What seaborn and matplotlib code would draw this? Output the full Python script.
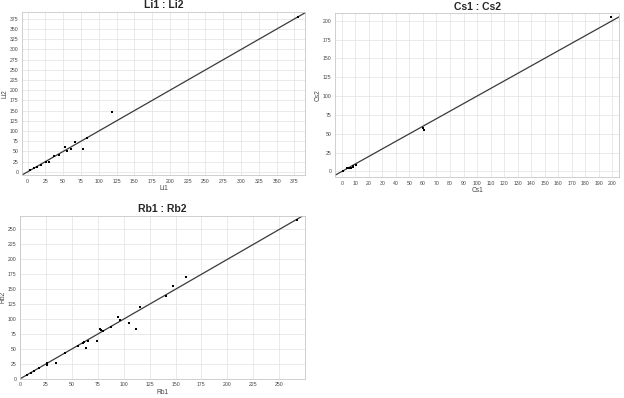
import numpy as np
import pandas as pd
import matplotlib
matplotlib.use("Agg")
import matplotlib.pyplot as plt
import seaborn as sns

# Li1 vs Li2
li1 = [4, 9, 14, 19, 26, 30, 37, 44, 52, 55, 61, 66, 78, 83, 119, 380]
li2 = [5, 9, 13, 17, 25, 25, 38, 42, 60, 52, 57, 74, 55, 84, 146, 380]

# Cs1 vs Cs2
cs1 = [0.5, 1, 4, 5, 7, 8, 8, 10.5, 60, 61, 199]
cs2 = [0, 0.5, 4, 4.5, 4, 6, 7.5, 9, 58, 55.5, 205]

# Rb1 vs Rb2
rb1 = [7, 11, 13.5, 18.7, 26, 26.4, 34.8, 43.8, 56, 60.5, 62, 63.8, 65.7, 74.7,
       77.3, 78, 80, 87.6, 94.7, 96.6, 104.7, 111.8, 115.6, 141, 147.5, 160, 266.7]
rb2 = [6, 10.7, 13, 17.4, 23, 26.4, 25.8, 42.7, 55.6, 59.5, 61, 51, 64, 64,
       83.7, 81.5, 80, 86, 103, 98, 92.7, 84.3, 120, 139, 155.6, 171, 266]

panels = [
    ("Li1", "Li2", li1, li2, np.arange(0, 400, 25), np.arange(0, 400, 25), (-8, 390), (-8, 392)),
    ("Cs1", "Cs2", cs1, cs2, np.arange(0, 210, 10), np.arange(0, 210, 25), (-5, 205), (-7.5, 210)),
    ("Rb1", "Rb2", rb1, rb2, np.arange(0, 275, 25), np.arange(0, 275, 25), (0, 275), (0, 273)),
]
positions = [
    [0.035, 0.560, 0.454, 0.410],
    [0.537, 0.555, 0.455, 0.412],
    [0.032, 0.048, 0.457, 0.410],
]

sns.set_theme(style="whitegrid")
plt.rcParams["font.family"] = ["Liberation Sans", "DejaVu Sans"]

fig = plt.figure(figsize=(6.24, 3.98), dpi=100)

for (xn, yn, xs, ys, xt, yt, xl, yl), pos in zip(panels, positions):
    ax = fig.add_axes(pos)
    df = pd.DataFrame({xn: xs, yn: ys})
    ax.axline((0, 0), slope=1, color="#3a3a3a", lw=0.9, zorder=2)
    sns.scatterplot(data=df, x=xn, y=yn, ax=ax, color="black", s=4, marker="s",
                    edgecolor="black", linewidth=0, zorder=3)
    ax.set_xlim(*xl)
    ax.set_ylim(*yl)
    ax.set_xticks(xt)
    ax.set_yticks(yt)
    ax.tick_params(labelsize=3.7, colors="#444444", length=1.5, pad=1)
    ax.grid(True, color="#e2e2e2", lw=0.5)
    for s in ax.spines.values():
        s.set_color("#c8c8c8")
        s.set_linewidth(0.6)
    ax.set_xlabel(xn, fontsize=4.8, color="#444444", labelpad=1)
    ax.set_ylabel(yn, fontsize=4.8, color="#444444", labelpad=1)
    ax.set_title(xn + " : " + yn, fontsize=7.5, fontweight="bold", pad=2.5)

fig.savefig("out.png", dpi=100)
